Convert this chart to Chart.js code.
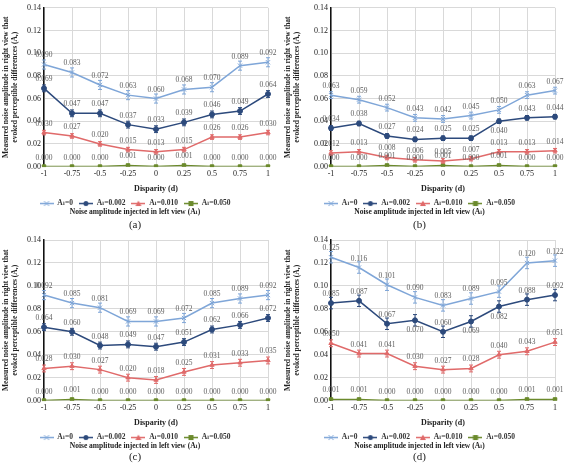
<!DOCTYPE html>
<html lang="en">
<head>
<meta charset="UTF-8">
<title>Measured noise amplitude vs disparity</title>
<script src="https://cdn.jsdelivr.net/npm/chart.js"></script>
<style>
  body { margin: 0; background: #fff; }
  .panel { position: absolute; }
</style>
</head>
<body>
<div class="panel" style="left:0;top:0"><canvas id="chartA" width="282" height="232"></canvas></div>
<div class="panel" style="left:282px;top:0"><canvas id="chartB" width="283" height="232"></canvas></div>
<div class="panel" style="left:0;top:232px"><canvas id="chartC" width="282" height="232"></canvas></div>
<div class="panel" style="left:282px;top:232px"><canvas id="chartD" width="283" height="232"></canvas></div>

<script>
// x categories and series names
const disparity = ['-1', '-0.75', '-0.5', '-0.25', '0', '0.25', '0.5', '0.75', '1'];
const seriesNames = ['A\u2097=0', 'A\u2097=0.002', 'A\u2097=0.010', 'A\u2097=0.050'];

// panel (a)
const a_A0   = [0.090, 0.083, 0.072, 0.063, 0.060, 0.068, 0.070, 0.089, 0.092];
const a_A002 = [0.069, 0.047, 0.047, 0.037, 0.033, 0.039, 0.046, 0.049, 0.064];
const a_A010 = [0.030, 0.027, 0.020, 0.015, 0.013, 0.015, 0.026, 0.026, 0.030];
const a_A050 = [0.000, 0.000, 0.000, 0.001, 0.000, 0.001, 0.000, 0.000, 0.000];
const a_err  = [0.004, 0.003, 0.002, 0.0005];

// panel (b)
const b_A0   = [0.063, 0.059, 0.052, 0.043, 0.042, 0.045, 0.050, 0.063, 0.067];
const b_A002 = [0.034, 0.038, 0.027, 0.024, 0.025, 0.025, 0.040, 0.043, 0.044];
const b_A010 = [0.012, 0.013, 0.008, 0.006, 0.005, 0.007, 0.013, 0.013, 0.014];
const b_A050 = [0.000, 0.000, 0.001, 0.000, 0.001, 0.000, 0.001, 0.000, 0.000];
const b_err  = [0.003, 0.002, 0.002, 0.0005];

// panel (c)
const c_A0   = [0.092, 0.085, 0.081, 0.069, 0.069, 0.072, 0.085, 0.089, 0.092];
const c_A002 = [0.064, 0.060, 0.048, 0.049, 0.047, 0.051, 0.062, 0.066, 0.072];
const c_A010 = [0.028, 0.030, 0.027, 0.020, 0.018, 0.025, 0.031, 0.033, 0.035];
const c_A050 = [0.000, 0.001, 0.000, 0.000, 0.000, 0.000, 0.000, 0.000, 0.000];
const c_err  = [0.004, 0.003, 0.003, 0.0005];

// panel (d)
const d_A0   = [0.125, 0.116, 0.101, 0.090, 0.083, 0.089, 0.095, 0.120, 0.122];
const d_A002 = [0.085, 0.087, 0.067, 0.070, 0.060, 0.069, 0.082, 0.088, 0.092];
const d_A010 = [0.050, 0.041, 0.041, 0.030, 0.027, 0.028, 0.040, 0.043, 0.051];
const d_A050 = [0.001, 0.001, 0.000, 0.000, 0.000, 0.000, 0.000, 0.001, 0.001];
const d_err  = [0.005, 0.005, 0.003, 0.0005];

const colors = ['#7fa6d8', '#2d4a7c', '#e06a6a', '#6b8a2c'];
const styles = ['crossRot', 'circle', 'triangle', 'rect'];
const serif = '"Liberation Serif", "DejaVu Serif", serif';

// little line+marker pictures for the legend
function legendMark(color, style) {
  const c = document.createElement('canvas');
  c.width = 14; c.height = 7;
  const g = c.getContext('2d');
  g.strokeStyle = color; g.fillStyle = color; g.lineWidth = 1.5;
  g.beginPath(); g.moveTo(0, 3.5); g.lineTo(14, 3.5); g.stroke();
  g.lineWidth = 1;
  if (style == 'crossRot') {
    g.beginPath();
    g.moveTo(4.5, 1); g.lineTo(9.5, 6);
    g.moveTo(9.5, 1); g.lineTo(4.5, 6);
    g.stroke();
  } else if (style == 'circle') {
    g.beginPath(); g.arc(7, 3.5, 2.5, 0, Math.PI * 2); g.fill();
  } else if (style == 'triangle') {
    g.beginPath(); g.moveTo(7, 0.5); g.lineTo(10, 6); g.lineTo(4, 6); g.closePath(); g.fill();
  } else {
    g.fillRect(4.5, 1, 5, 5);
  }
  return c;
}
const marks = colors.map((c, i) => legendMark(c, styles[i]));

// error bars + value labels
const extras = {
  id: 'extras',
  afterDatasetsDraw(chart, args, opts) {
    const ctx = chart.ctx;
    const ys = chart.scales.y;
    chart.data.datasets.forEach((ds, i) => {
      const meta = chart.getDatasetMeta(i);
      const err = opts.errors[i];
      ctx.save();
      ctx.strokeStyle = ds.borderColor;
      ctx.lineWidth = 1;
      meta.data.forEach((pt, j) => {
        const v = ds.data[j];
        const t = ys.getPixelForValue(v + err);
        const b = ys.getPixelForValue(Math.max(0, v - err));
        ctx.beginPath();
        ctx.moveTo(pt.x, t); ctx.lineTo(pt.x, b);
        ctx.moveTo(pt.x - 2, t); ctx.lineTo(pt.x + 2, t);
        ctx.moveTo(pt.x - 2, b); ctx.lineTo(pt.x + 2, b);
        ctx.stroke();
      });
      ctx.fillStyle = '#5e5e5e';
      ctx.font = '7.5px ' + serif;
      ctx.textAlign = 'center';
      ctx.textBaseline = 'middle';
      const below = (opts.below[i] || []);
      meta.data.forEach((pt, j) => {
        const dy = below.includes(j) ? 10 : -9;
        ctx.fillText(ds.data[j].toFixed(3), pt.x, pt.y + dy);
      });
      ctx.restore();
    });
  }
};

function makePanel(id, letter, series, errs, below, yWidth, rightPad, topPad, subPad) {
  const datasets = series.map((vals, i) => ({
    label: seriesNames[i],
    data: vals,
    borderColor: colors[i],
    backgroundColor: colors[i],
    borderWidth: 1.5,
    pointStyle: styles[i],
    pointRadius: i == 0 ? 3 : 2.5,
    pointBorderWidth: 1
  }));

  new Chart(document.getElementById(id), {
    type: 'line',
    data: { labels: disparity, datasets },
    options: {
      responsive: false,
      animation: false,
      layout: { padding: { top: topPad, right: rightPad, left: 2, bottom: 0 } },
      scales: {
        x: {
          offset: false,
          grid: { color: '#d9d9d9', drawTicks: false },
          border: { color: '#d9d9d9' },
          ticks: { color: '#222', font: { family: serif, size: 8 }, padding: 3, maxRotation: 0 },
          title: { display: true, text: 'Disparity (d)', color: '#222', font: { family: serif, size: 8, weight: 'bold' }, padding: { top: 2, bottom: 0 } }
        },
        y: {
          min: 0, max: 0.14,
          grid: { color: '#d9d9d9', drawTicks: false },
          border: { color: '#111', width: 1.5 },
          ticks: { stepSize: 0.02, color: '#222', font: { family: serif, size: 8 }, padding: 3,
                   callback: v => v.toFixed(2) },
          title: { display: true, color: '#222', font: { family: serif, size: 7.5, weight: 'bold' }, padding: 0,
                   text: ['Measured noise amplitude in right view that', 'evoked perceptible differences (A\u1d63)'] },
          afterFit: s => { s.width = yWidth; }
        }
      },
      plugins: {
        legend: {
          position: 'bottom',
          maxHeight: 14,
          labels: {
            usePointStyle: true,
            pointStyleWidth: 14,
            boxHeight: 7,
            padding: 6,
            color: '#333',
            font: { family: serif, size: 7.5, weight: 'bold' },
            generateLabels: chart => Chart.defaults.plugins.legend.labels.generateLabels(chart)
              .map(it => Object.assign(it, { pointStyle: marks[it.datasetIndex] }))
          }
        },
        subtitle: {
          display: true, position: 'bottom', color: '#222',
          text: 'Noise amplitude injected in left view (A\u2097)',
          font: { family: serif, size: 7.5, weight: 'bold' },
          padding: { top: 0, bottom: subPad }
        },
        title: {
          display: true, position: 'bottom', color: '#222',
          text: '(' + letter + ')',
          font: { family: serif, size: 11, weight: 'normal' },
          padding: { top: 0, bottom: 0 }
        },
        tooltip: { enabled: false },
        extras: { errors: errs, below }
      }
    },
    plugins: [extras]
  });
}

makePanel('chartA', 'a', [a_A0, a_A002, a_A010, a_A050], a_err, {}, 42, 14, 2, 2);
makePanel('chartB', 'b', [b_A0, b_A002, b_A010, b_A050], b_err, { 1: [6] }, 47, 10, 2, 2);
makePanel('chartC', 'c', [c_A0, c_A002, c_A010, c_A050], c_err, {}, 42, 14, 8, 0);
makePanel('chartD', 'd', [d_A0, d_A002, d_A010, d_A050], d_err, { 1: [3, 5, 6] }, 47, 10, 8, 0);
</script>
</body>
</html>
